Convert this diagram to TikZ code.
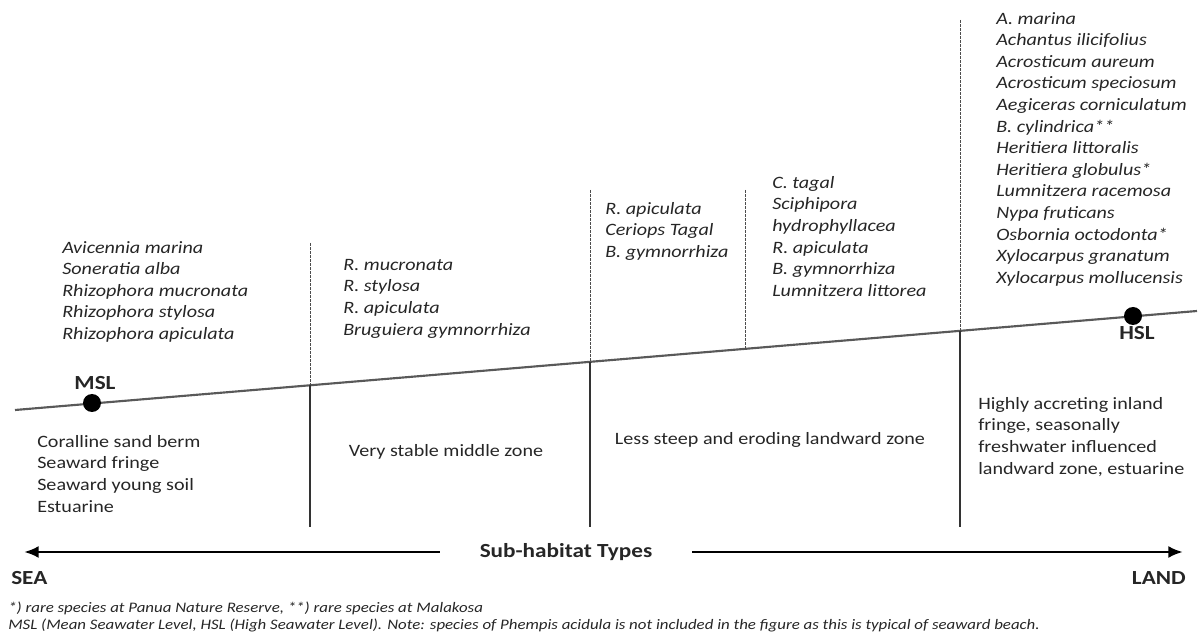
\documentclass[tikz,border=0pt]{standalone}
\usepackage{fontspec}
\setmainfont{Carlito}[FakeStretch=1.16]
\usetikzlibrary{arrows.meta,calc}
\tikzset{
    species/.style={font=\itshape, align=left, anchor=north west, inner sep=0pt},
    zone/.style={align=left, anchor=north west, inner sep=0pt},
    level/.style={font=\fontsize{15}{18}\selectfont\bfseries, inner sep=0pt},
    dot/.style={circle, fill=black, minimum size=13.5pt, inner sep=0pt},
    shore/.style={line width=1.6pt, black!65},
    guide/.style={dash pattern=on 2pt off 1pt, line width=0.4pt, black!70},
    wall/.style={line width=0.8pt, black!80},
    dir/.style={-{Latex[length=11pt,width=9pt]}, line width=2pt},
    note/.style={font=\fontsize{10.9}{12.75}\selectfont\itshape, anchor=west, inner sep=0pt},
}

\begin{document}
\fontsize{13}{16.2}\selectfont
\begin{tikzpicture}[x=0.75pt, y=-0.75pt, text=black!85]
    \path[use as bounding box] (0,0) rectangle (1200,641);

    % shoreline
    \coordinate (shorestart) at (15,410);
    \coordinate (shoreend) at (1197,311);
    \draw[shore] (shorestart) -- (shoreend);

    \coordinate (cut1) at (310,385.3);
    \coordinate (cut2) at (590,361.8);
    \coordinate (cut3) at (745,348.8);
    \coordinate (cut4) at (960,330.8);
    \coordinate (top1) at (310,243);
    \coordinate (top2) at (590,190);
    \coordinate (top3) at (745,190);
    \coordinate (top4) at (960,20);
    \coordinate (foot1) at (310,527);
    \coordinate (foot2) at (590,527);
    \coordinate (foot4) at (960,527);
    \draw[guide] (top1) -- (cut1);
    \draw[guide] (top2) -- (cut2);
    \draw[guide] (top3) -- (cut3);
    \draw[guide] (top4) -- (cut4);
    \draw[wall] (cut1) -- (foot1);
    \draw[wall] (cut2) -- (foot2);
    \draw[wall] (cut4) -- (foot4);

    \node[dot] (msl) at (92,403) {};
    \node[level] (msllabel) at (95,383) {MSL};
    \node[dot] (hsl) at (1133,316) {};
    \node[level] (hsllabel) at (1137,333) {HSL};

    \node[species] (seaspecies) at (62,241) {Avicennia marina\\Soneratia alba\\Rhizophora mucronata\\Rhizophora stylosa\\Rhizophora apiculata};
    \node[species] (midspecies) at (343,259) {R. mucronata\\R. stylosa\\R. apiculata\\Bruguiera gymnorrhiza};
    \node[species] (landspecies) at (605,202) {R. apiculata\\Ceriops Tagal\\B. gymnorrhiza};
    \node[species] (upperspecies) at (772,176) {C. tagal\\Sciphipora\\hydrophyllacea\\R. apiculata\\B. gymnorrhiza\\Lumnitzera littorea};
    \node[species] (inlandspecies) at (996,12) {A. marina\\Achantus ilicifolius\\Acrosticum aureum\\Acrosticum speciosum\\Aegiceras corniculatum\\B. cylindrica**\\Heritiera littoralis\\Heritiera globulus*\\Lumnitzera racemosa\\Nypa fruticans\\Osbornia octodonta*\\Xylocarpus granatum\\Xylocarpus mollucensis};

    \node[zone] (seazone) at (37,435) {Coralline sand berm\\Seaward fringe\\Seaward young soil\\Estuarine};
    \node (midzone) at (446,452) {Very stable middle zone};
    \node (landzone) at (770,440) {Less steep and eroding landward zone};
    \node[zone] (inlandzone) at (978,397) {Highly accreting inland\\fringe, seasonally\\freshwater influenced\\landward zone, estuarine};

    % direction
    \node[level, minimum width=189pt] (types) at (566,552) {Sub-habitat Types};
    \coordinate (seatip) at (24,552);
    \coordinate (landtip) at (1183,552);
    \draw[dir] (types.west) -- (seatip);
    \draw[dir] (types.east) -- (landtip);
    \node[level, anchor=west] (sea) at (11,578) {SEA};
    \node[level, anchor=east] (land) at (1186,578) {LAND};

    \node[note] (note1) at (8,608) {*) rare species at Panua Nature Reserve, **) rare species at Malakosa};
    \node[note] (note2) at (8,625) {MSL (Mean Seawater Level, HSL (High Seawater Level). Note: species of Phempis acidula is not included in the figure as this is typical of seaward beach.};
\end{tikzpicture}
\end{document}
